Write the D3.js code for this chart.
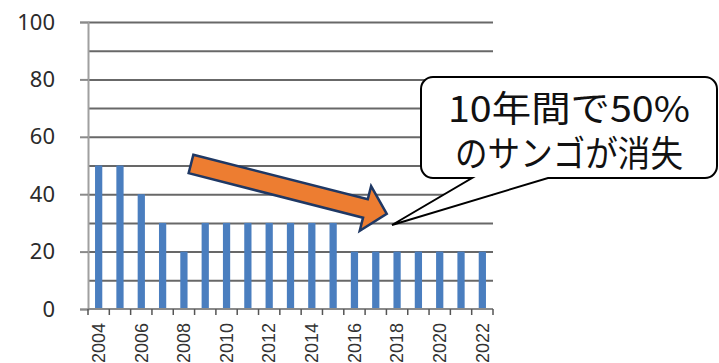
<!DOCTYPE html>
<html>
<head>
<meta charset="utf-8">
<script src="https://cdn.jsdelivr.net/npm/d3@7"></script>
<style>
  body { margin: 0; background: #fff; }
  svg { display: block; }
</style>
</head>
<body>
<div id="chart"></div>
<script>
// data
var years = ["2004", "2005", "2006", "2007", "2008", "2009", "2010", "2011", "2012", "2013",
    "2014", "2015", "2016", "2017", "2018", "2019", "2020", "2021", "2022"];
var coral = [50, 50, 40, 30, 20, 30, 30, 30, 30, 30, 30, 30, 20, 20, 20, 20, 20, 20, 20];
var yTicks = [0, 20, 40, 60, 80, 100];
var gridTicks = [10, 20, 30, 40, 50, 60, 70, 80, 90, 100];
var xLabels = ["2004", "2006", "2008", "2010", "2012", "2014", "2016", "2018", "2020", "2022"];
var calloutLines = ["10年間で50%", "のサンゴが消失"];

var svgWidth = 719;
var svgHeight = 363;
var margin = { top: 22, right: 226, bottom: 54, left: 88 };
var width = svgWidth - margin.left - margin.right;
var height = svgHeight - margin.top - margin.bottom;

var svg = d3.select("#chart")
    .append("svg")
    .attr("width", svgWidth)
    .attr("height", svgHeight);

var chartGroup = svg.append("g")
    .attr("transform", `translate(${margin.left}, ${margin.top})`);

// scales
var xBandScale = d3.scaleBand()
    .domain(years)
    .range([0, width])
    .paddingInner(0.66)
    .paddingOuter(0.33);

var yLinearScale = d3.scaleLinear()
    .domain([0, 100])
    .range([height, 0]);

// gridlines every 10
var grid = chartGroup.append("g")
    .call(d3.axisLeft(yLinearScale).tickValues(gridTicks).tickSize(-width).tickFormat(""));
grid.select(".domain").remove();
grid.selectAll("line")
    .attr("stroke", "#686868")
    .attr("stroke-width", 2);

// bars
chartGroup.selectAll("rect.bar")
    .data(coral)
    .enter()
    .append("rect")
    .attr("class", "bar")
    .attr("x", (d, i) => xBandScale(years[i]))
    .attr("y", d => yLinearScale(d))
    .attr("width", xBandScale.bandwidth())
    .attr("height", d => height - yLinearScale(d))
    .attr("fill", "#4a7ebf");

// y axis
var yAxis = chartGroup.append("g")
    .call(d3.axisLeft(yLinearScale).tickValues(yTicks).tickSize(8).tickPadding(25));
yAxis.select(".domain")
    .attr("stroke", "#a0a0a0")
    .attr("stroke-width", 2);
yAxis.selectAll("line")
    .attr("stroke", "#8a8a8a")
    .attr("stroke-width", 2);
yAxis.selectAll("text")
    .attr("fill", "#2b2b2b")
    .style("font-family", "'Noto Sans', sans-serif")
    .style("font-size", "22px");

// x axis baseline with ticks at category boundaries
var step = xBandScale.step();
var boundaries = d3.range(years.length + 1).map(i => i * step);
var xAxisG = chartGroup.append("g")
    .attr("transform", `translate(0, ${height})`);
xAxisG.append("line")
    .attr("x1", 0)
    .attr("x2", width)
    .attr("stroke", "#8a8a8a")
    .attr("stroke-width", 2);
xAxisG.selectAll("line.tick")
    .data(boundaries)
    .enter()
    .append("line")
    .attr("class", "tick")
    .attr("x1", d => d)
    .attr("x2", d => d)
    .attr("y1", 0)
    .attr("y2", 6)
    .attr("stroke", "#555")
    .attr("stroke-width", 1.5);

// rotated year labels
var xAxis = chartGroup.append("g")
    .attr("transform", `translate(0, ${height})`)
    .call(d3.axisBottom(xBandScale).tickValues(xLabels).tickSize(0));
xAxis.select(".domain").remove();
xAxis.selectAll("text")
    .attr("transform", "rotate(-90)")
    .attr("text-anchor", "end")
    .attr("x", -14)
    .attr("y", 0)
    .attr("dy", "0.35em")
    .attr("fill", "#333")
    .style("font-family", "'Liberation Sans', Arial, sans-serif")
    .style("font-size", "18px");

// orange arrow
var arrowLen = 202, shaftW = 9.5, headLen = 22, headW = 23;
var arrowPts = [[0, -shaftW], [arrowLen - headLen, -shaftW], [arrowLen - headLen, -headW],
    [arrowLen, 0], [arrowLen - headLen, headW], [arrowLen - headLen, shaftW], [0, shaftW]];
svg.append("polygon")
    .attr("points", arrowPts.map(p => p.join(",")).join(" "))
    .attr("transform", "translate(191, 164) rotate(14.3)")
    .attr("fill", "#ed7d31")
    .attr("stroke", "#1f3864")
    .attr("stroke-width", 2.5)
    .attr("stroke-linejoin", "miter");

// callout
var bx0 = 421, bx1 = 717, by0 = 77, by1 = 178, r = 12;
var tip = [392, 225];
var calloutPath = d3.path();
calloutPath.moveTo(bx0 + r, by0);
calloutPath.lineTo(bx1 - r, by0);
calloutPath.arcTo(bx1, by0, bx1, by0 + r, r);
calloutPath.lineTo(bx1, by1 - r);
calloutPath.arcTo(bx1, by1, bx1 - r, by1, r);
calloutPath.lineTo(548, by1);
calloutPath.lineTo(tip[0], tip[1]);
calloutPath.lineTo(472, by1);
calloutPath.lineTo(bx0 + r, by1);
calloutPath.arcTo(bx0, by1, bx0, by1 - r, r);
calloutPath.lineTo(bx0, by0 + r);
calloutPath.arcTo(bx0, by0, bx0 + r, by0, r);
calloutPath.closePath();

svg.append("path")
    .attr("d", calloutPath.toString())
    .attr("fill", "#fff")
    .attr("stroke", "#000")
    .attr("stroke-width", 2)
    .attr("stroke-linejoin", "miter");

var calloutWidths = [242, 228];
svg.selectAll("text.callout")
    .data(calloutLines)
    .enter()
    .append("text")
    .attr("class", "callout")
    .attr("x", (bx0 + bx1) / 2)
    .attr("y", (d, i) => 122 + i * 45)
    .attr("text-anchor", "middle")
    .attr("textLength", (d, i) => calloutWidths[i])
    .attr("lengthAdjust", "spacingAndGlyphs")
    .attr("fill", "#111")
    .style("font-family", "'Noto Sans CJK JP', sans-serif")
    .style("font-size", "36px")
    .text(d => d);
</script>
</body>
</html>
